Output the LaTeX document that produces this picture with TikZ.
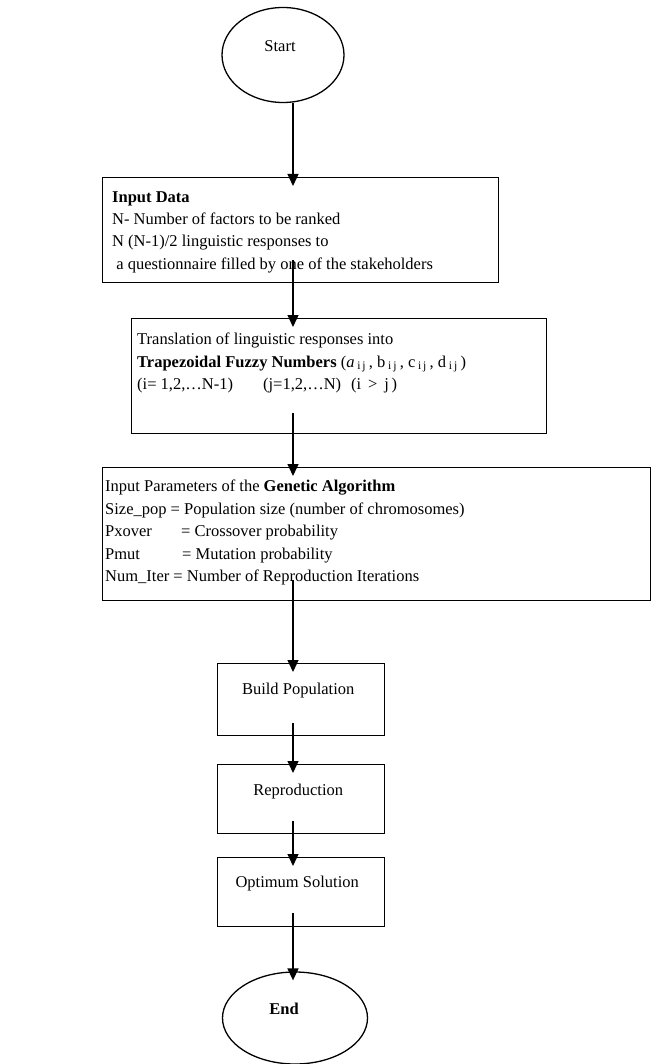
\documentclass[tikz,border=0pt]{standalone}
\usepackage{fontspec}
\setmainfont{Liberation Serif}
\usetikzlibrary{arrows.meta,calc,shapes.geometric}
\begin{document}
\begin{tikzpicture}[x=1pt,y=-1pt,
  font=\fontsize{16.5}{22.4}\selectfont,
  box/.style={draw, line width=1.4pt, rectangle, inner sep=0pt, anchor=north west},
  oval/.style={draw, line width=1.3pt, ellipse, inner sep=0pt},
  txt/.style={anchor=north west, align=left, inner sep=0pt},
  arr/.style={line width=1.4pt, -{Triangle[width=11pt,length=12pt]}}]
\useasboundingbox (0,0) rectangle (650,1064);
\coordinate (ax) at (293,0);
% start / end
\node[oval, minimum width=122, minimum height=95] (start) at (283,55) {};
\node (starttext) at ($(start.center)+(-3,-9)$) {Start};
\node[oval, minimum width=145, minimum height=92] (end) at (295,1018) {};
\node (endtext) at ($(end.center)+(-11,-9)$) {\bfseries End};
% input data
\node[box, minimum width=396, minimum height=105] (in) at (102,177) {};
\node[txt] (intext) at ($(in.north west)+(10,14)$) {\textbf{Input Data}\\
N- Number of factors to be ranked\\
N (N-1)/2 linguistic responses to\\
\ a questionnaire filled by one of the stakeholders};
% translation
\node[box, minimum width=415, minimum height=115] (tr) at (131,318) {};
\node[txt] (trtext) at ($(tr.north west)+(6,15)$) {Translation of linguistic responses into\\
\textbf{Trapezoidal Fuzzy Numbers} ({\itshape a}\,\textsubscript{i\,j}\,, b\,\textsubscript{i\,j}\,, c\,\textsubscript{i\,j}\,, d\,\textsubscript{i\,j}\,)\\
(i= 1,2,\dots N-1)\hspace{30pt}(j=1,2,\dots N)\hspace{10pt}(i \,>\, j\,)};
% genetic algorithm
\node[box, minimum width=548, minimum height=133] (ga) at (102,467) {};
\node[txt] (gatext) at ($(ga.north west)+(3,13)$) {Input Parameters of the \textbf{Genetic Algorithm}\\
Size\_pop = Population size (number of chromosomes)\\
\makebox[76pt][l]{Pxover}= Crossover probability\\
\makebox[77pt][l]{Pmut}= Mutation probability\\
Num\_Iter = Number of Reproduction Iterations};
% small boxes
\node[box, minimum width=167, minimum height=72] (bp) at (217,663) {};
\node (bptext) at ($(bp.center)+(-3,-9)$) {Build Population};
\node[box, minimum width=167, minimum height=69] (rp) at (217,764) {};
\node (rptext) at ($(rp.center)+(-3,-8)$) {Reproduction};
\node[box, minimum width=167, minimum height=69] (op) at (217,857) {};
\node (optext) at ($(op.center)+(-4,-9)$) {Optimum Solution};
% connectors
\draw[arr] (start.south -| ax) -- ([yshift=-9pt]in.north -| ax);
\draw[arr] ([yshift=23pt]in.south -| ax) -- ([yshift=-9pt]tr.north -| ax);
\draw[arr] ([yshift=21pt]tr.south -| ax) -- ([yshift=-9pt]ga.north -| ax);
\draw[arr] ([yshift=21pt]ga.south -| ax) -- ([yshift=-9pt]bp.north -| ax);
\draw[arr] ([yshift=13pt]bp.south -| ax) -- ([yshift=-9pt]rp.north -| ax);
\draw[arr] ([yshift=13pt]rp.south -| ax) -- ([yshift=-9pt]op.north -| ax);
\draw[arr] ([yshift=14pt]op.south -| ax) -- ([yshift=-9pt]end.north -| ax);
\end{tikzpicture}
\end{document}
